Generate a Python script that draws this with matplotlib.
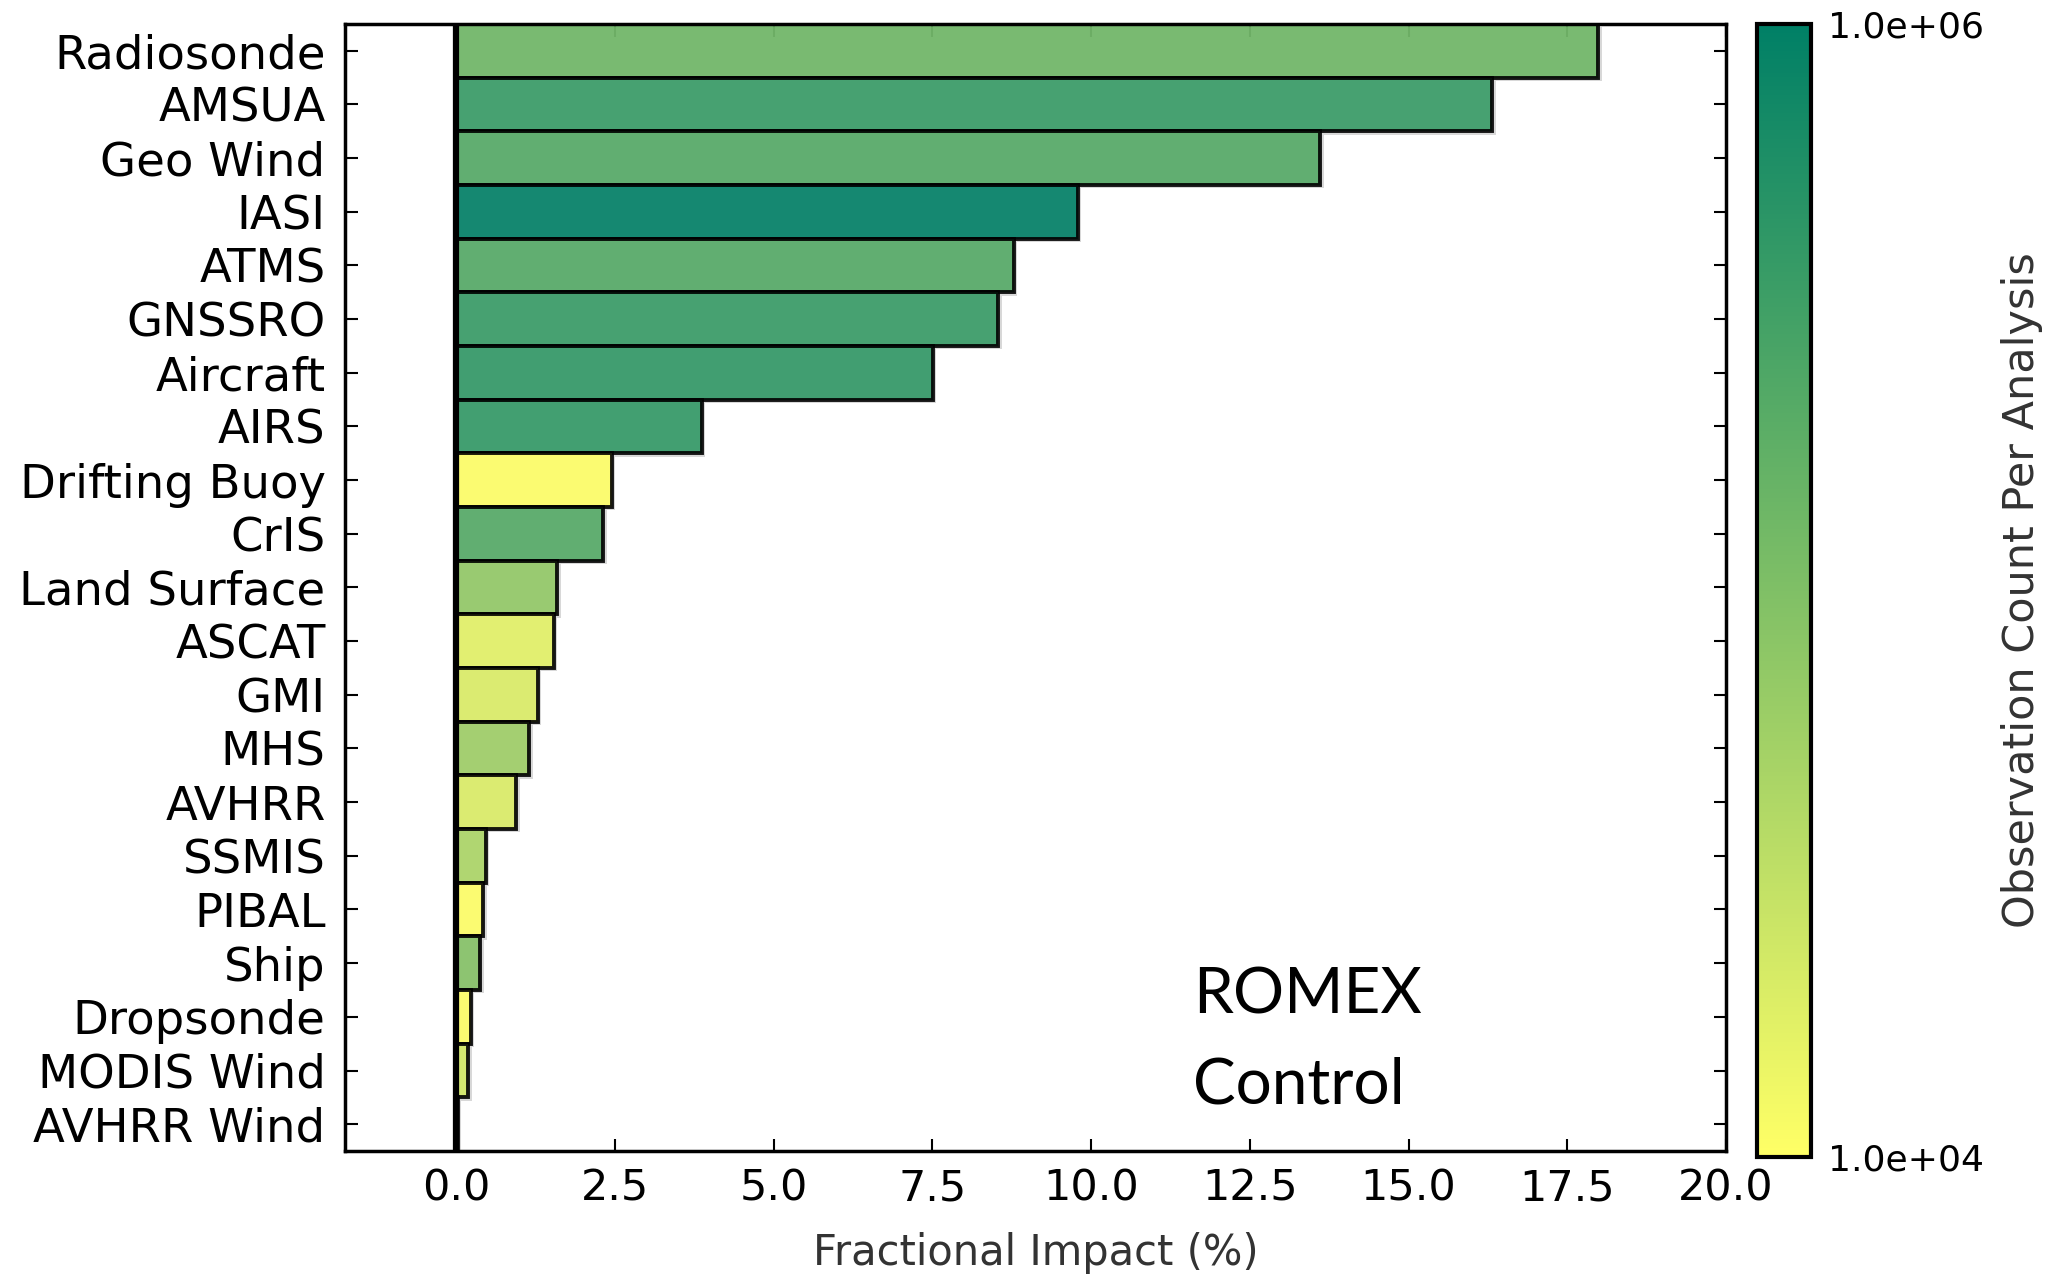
import numpy as np
import matplotlib
matplotlib.use("Agg")
import matplotlib.pyplot as plt
from matplotlib.colors import LogNorm
import matplotlib.patheffects as pe

# Observation types, top to bottom
obs_types = ['Radiosonde', 'AMSUA', 'Geo Wind', 'IASI', 'ATMS', 'GNSSRO',
             'Aircraft', 'AIRS', 'Drifting Buoy', 'CrIS', 'Land Surface',
             'ASCAT', 'GMI', 'MHS', 'AVHRR', 'SSMIS', 'PIBAL', 'Ship',
             'Dropsonde', 'MODIS Wind', 'AVHRR Wind']

# Fractional impact (%)
impact = [17.99, 16.32, 13.61, 9.79, 8.78, 8.54, 7.51, 3.87, 2.45, 2.32,
          1.59, 1.54, 1.29, 1.15, 0.95, 0.47, 0.43, 0.38, 0.23, 0.19, 0.03]

# Observation count per analysis
obs_count = [1.35e5, 3.7e5, 2.2e5, 1.0e6, 2.2e5, 3.7e5, 4.1e5, 4.0e5,
             1.0e4, 2.2e5, 7.0e4, 1.65e4, 1.9e4, 5.7e4, 1.9e4, 4.5e4,
             1.0e4, 9.1e4, 1.0e4, 2.2e4, 1.2e4]

cbar_ticks = [1e4, 1e6]

W, H = 2052, 1275
fig = plt.figure(figsize=(W / 100, H / 100), dpi=100)
ax = fig.add_axes([345 / W, 1 - 1151 / H, 1381 / W, 1127 / H])
cax = fig.add_axes([1757 / W, 1 - 1157 / H, 54 / W, 1133 / H])

cmap = plt.get_cmap('summer_r')
norm = LogNorm(vmin=1e4, vmax=1e6)
colors = cmap(norm(obs_count))

ypos = np.arange(len(obs_types))
bars = ax.barh(ypos, impact, height=1.0, color=colors, edgecolor='black',
               linewidth=2.8, alpha=0.9, zorder=2)
for b in bars:
    b.set_path_effects([pe.SimplePatchShadow(offset=(2.5, -2.5), shadow_rgbFace='0.7', alpha=0.5),
                        pe.Normal()])

ax.axvline(0, color='black', linewidth=4.5, zorder=3)

ax.set_xlim(-1.75, 20)
ax.set_ylim(len(obs_types) - 0.5, -0.5)
ax.set_xticks(np.arange(0, 20.1, 2.5))
ax.set_yticks(ypos)
ax.set_yticklabels(obs_types)

ax.tick_params(axis='both', direction='in', top=True, right=True,
               length=9, width=1.5)
ax.tick_params(axis='y', labelsize=33.5, pad=14)
ax.tick_params(axis='x', labelsize=31, pad=12)
for s in ax.spines.values():
    s.set_linewidth(2.5)

ax.set_xlabel('Fractional Impact (%)', fontsize=30, labelpad=16, color='#333333')

ax.text(1193 / W, 1 - 1013 / H, 'ROMEX', transform=fig.transFigure,
        fontsize=46, family='Lato', ha='left', va='baseline')
ax.text(1193 / W, 1 - 1103 / H, 'Control', transform=fig.transFigure,
        fontsize=46, family='Lato', ha='left', va='baseline')

# colour bar
sm = plt.cm.ScalarMappable(norm=norm, cmap=cmap)
cb = fig.colorbar(sm, cax=cax, ticks=cbar_ticks, format='%.1e')
cb.minorticks_off()
cb.outline.set_linewidth(3)
cax.tick_params(length=0, labelsize=26, pad=12)
fig.text(2022 / W, 1 - 590 / H, 'Observation Count Per Analysis', rotation=90,
         ha='center', va='center', fontsize=31, color='#333333')

fig.savefig('out.png', dpi=100)
